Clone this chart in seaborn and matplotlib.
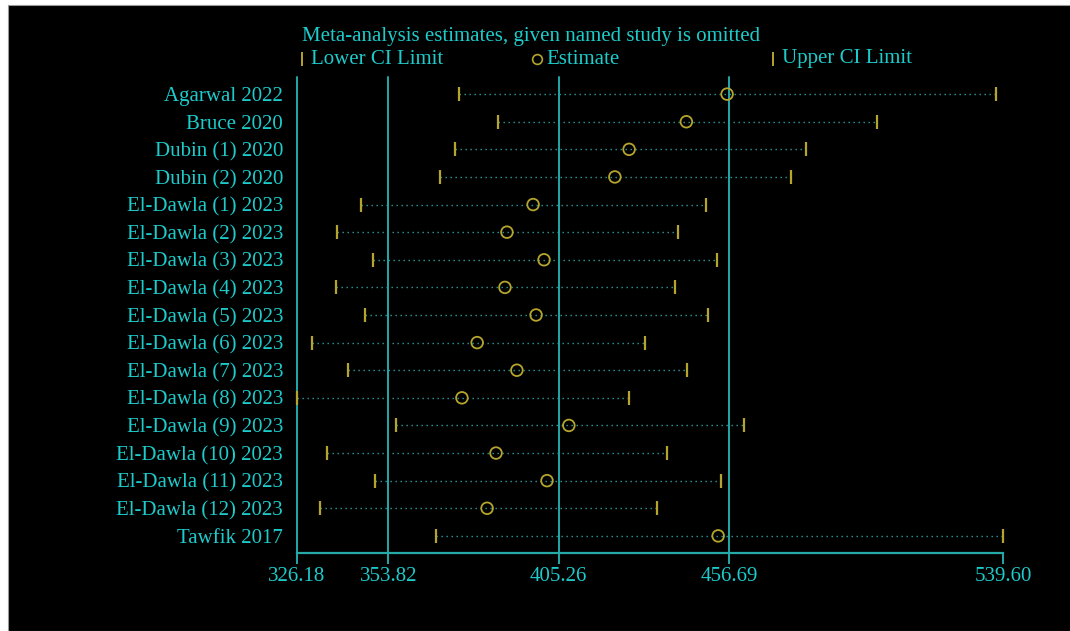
import numpy as np
import pandas as pd
import seaborn as sns
import matplotlib.pyplot as plt
from matplotlib.patches import Rectangle
from matplotlib.lines import Line2D

# Data
studies = ["Agarwal 2022", "Bruce 2020", "Dubin (1) 2020", "Dubin (2) 2020",
           "El-Dawla (1) 2023", "El-Dawla (2) 2023", "El-Dawla (3) 2023",
           "El-Dawla (4) 2023", "El-Dawla (5) 2023", "El-Dawla (6) 2023",
           "El-Dawla (7) 2023", "El-Dawla (8) 2023", "El-Dawla (9) 2023",
           "El-Dawla (10) 2023", "El-Dawla (11) 2023", "El-Dawla (12) 2023",
           "Tawfik 2017"]
estimate = [456.1, 443.8, 426.5, 422.2, 397.5, 389.6, 400.8, 389.0, 398.4,
            380.6, 392.6, 376.0, 408.3, 386.3, 401.7, 383.6, 453.4]
lower = [375.1, 386.9, 373.9, 369.4, 345.5, 338.3, 349.1, 338.0, 346.7,
         330.7, 341.6, 326.18, 356.1, 335.2, 349.7, 333.1, 368.2]
upper = [537.2, 501.5, 480.0, 475.4, 449.8, 441.3, 453.1, 440.4, 450.4,
         431.3, 444.0, 426.5, 461.2, 438.0, 454.3, 435.0, 539.6]
ref_lines = [326.18, 353.82, 405.26, 456.69]
x_ticks = [326.18, 353.82, 405.26, 456.69, 539.60]

df = pd.DataFrame({"study": studies, "estimate": estimate,
                   "lower": lower, "upper": upper})
df["row"] = np.arange(len(df))

txt_col = "#1ECBCB"
line_col = "#25A9A9"
dot_col = "#2E9E9E"
mark_col = "#B5A52C"

sns.set_theme(style="ticks")
plt.rcParams["font.family"] = ["Liberation Serif", "DejaVu Serif"]

fig = plt.figure(figsize=(10.7, 6.31), dpi=100, facecolor="white")
fig.patches.append(Rectangle((8 / 1070, 0), 1, 626 / 631, transform=fig.transFigure,
                             facecolor="black", edgecolor="#999999", lw=0.8, zorder=-5))
ax = fig.add_axes([297 / 1070, 78 / 631, 706.5 / 1070, 476 / 631])
ax.set_facecolor("none")

# reference lines
for v in ref_lines:
    ax.axvline(v, color=line_col, lw=1.4, zorder=1, clip_on=False)

# dotted CI lines
ax.hlines(df["row"], df["lower"], df["upper"], color=dot_col, lw=1.0,
          linestyles=(0, (1, 2.6)), zorder=2)

# CI limits and estimates
sns.scatterplot(data=df, x="lower", y="row", marker="|", s=110, color=mark_col,
                linewidth=1.6, ax=ax, zorder=3, clip_on=False)
sns.scatterplot(data=df, x="upper", y="row", marker="|", s=110, color=mark_col,
                linewidth=1.6, ax=ax, zorder=3, clip_on=False)
sns.scatterplot(data=df, x="estimate", y="row", marker="o", s=70, facecolor="none",
                edgecolor=mark_col, linewidth=1.3, ax=ax, zorder=4, clip_on=False)

ax.set_xlim(x_ticks[0], x_ticks[-1])
ax.set_ylim(len(df) - 1 + 0.62, -0.62)
ax.set_xticks(x_ticks)
ax.set_xticklabels([f"{t:.2f}" for t in x_ticks])
ax.set_yticks(df["row"])
ax.set_yticklabels(df["study"])
ax.set_xlabel("")
ax.set_ylabel("")
ax.tick_params(axis="x", colors=line_col, labelcolor=txt_col, labelsize=15,
               length=8, width=1.4, pad=2)
ax.tick_params(axis="y", length=0, labelcolor=txt_col, labelsize=15, pad=10)
for s in ["top", "right", "left"]:
    ax.spines[s].set_visible(False)
ax.spines["bottom"].set_color(line_col)
ax.spines["bottom"].set_linewidth(1.6)

# title and legend
fig.text(302 / 1070, 1 - 36 / 631, "Meta-analysis estimates, given named study is omitted",
         color=txt_col, fontsize=15, va="center", ha="left")
leg_y = 1 - 59 / 631
for xm, mk, label in [(302, "|", "Lower CI Limit"), (537, "o", "Estimate"),
                      (773, "|", "Upper CI Limit")]:
    if mk == "o":
        h = Line2D([xm / 1070], [leg_y], marker="o", ms=7, mfc="none", mec=mark_col,
                   mew=1.2, ls="none", transform=fig.transFigure)
    else:
        h = Line2D([xm / 1070], [leg_y], marker="|", ms=10, mec=mark_col,
                   mew=1.4, ls="none", transform=fig.transFigure)
    fig.add_artist(h)
    fig.text((xm + 9) / 1070, leg_y, label, color=txt_col, fontsize=15,
             va="center", ha="left")

fig.savefig("out.png", dpi=100, facecolor="white")
